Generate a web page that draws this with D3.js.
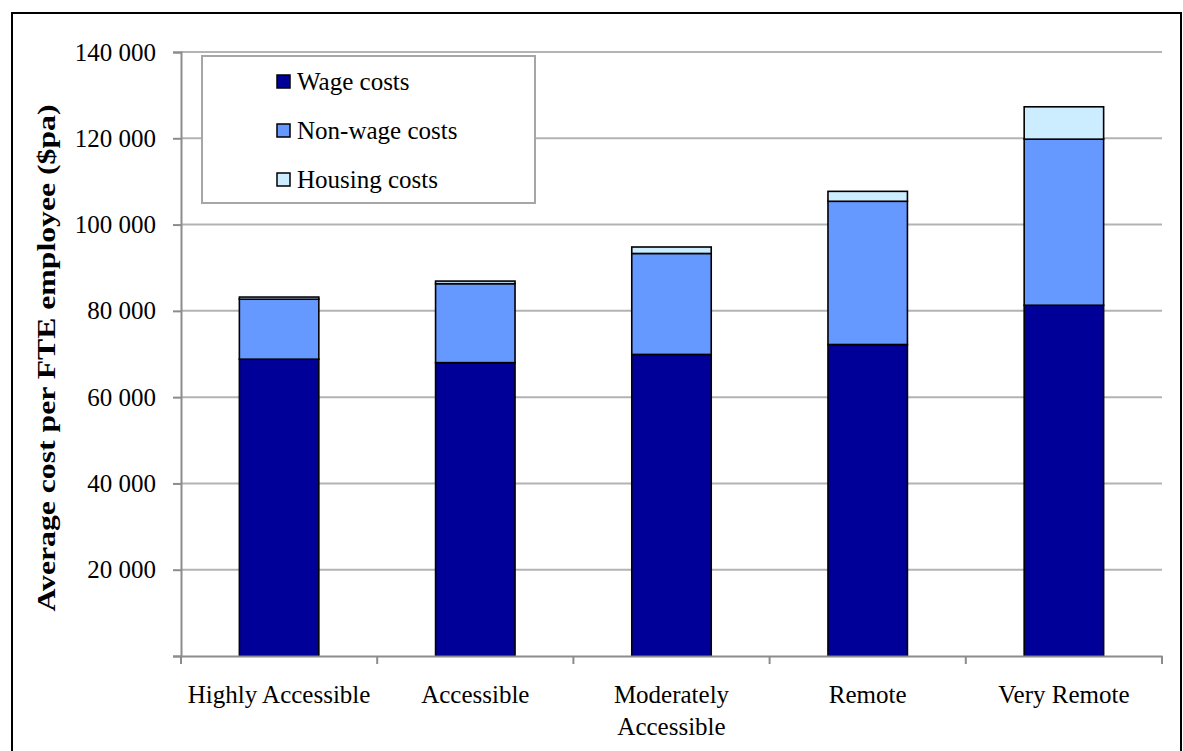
<!DOCTYPE html>
<html>
<head>
<meta charset="utf-8">
<script src="https://cdn.jsdelivr.net/npm/d3@7"></script>
<style>
  html, body { margin: 0; padding: 0; background: #fff; }
  svg text { font-family: "Liberation Serif", "Times New Roman", serif; fill: #000; }
</style>
</head>
<body>
<svg id="chart" width="1183" height="751"></svg>
<script>
const categories = ["Highly Accessible", "Accessible", "Moderately Accessible", "Remote", "Very Remote"];
const wageCosts = [68800, 68000, 69900, 72200, 81300];
const nonWageCosts = [13900, 18300, 23400, 33200, 38500];
const housingCosts = [500, 600, 1500, 2300, 7500];
const seriesNames = ["Wage costs", "Non-wage costs", "Housing costs"];
const yTickValues = [0, 20000, 40000, 60000, 80000, 100000, 120000, 140000];
const yTitle = "Average cost per FTE employee ($pa)";

const colors = ["#000099", "#6699FF", "#CCECFF"];

const svg = d3.select("#chart");
const m = { left: 181, right: 1162, top: 52, bottom: 656 };

// outer border
svg.append("rect").attr("x", 12).attr("y", 13).attr("width", 1169).attr("height", 760)
  .attr("fill", "none").attr("stroke", "#000").attr("stroke-width", 2);

const x = d3.scaleBand().domain(categories).range([m.left, m.right]).paddingInner(0.595).paddingOuter(0.2975);
const y = d3.scaleLinear().domain([0, 140000]).range([m.bottom, m.top]);

// gridlines
svg.append("g").selectAll("line").data(yTickValues.filter(d => d > 0)).join("line")
  .attr("x1", m.left).attr("x2", m.right)
  .attr("y1", d => y(d)).attr("y2", d => y(d))
  .attr("stroke", "#b3b3b3").attr("stroke-width", 2);

// stacked data
const rows = categories.map((c, i) => ({ cat: c, w: wageCosts[i], n: nonWageCosts[i], h: housingCosts[i] }));
const stack = d3.stack().keys(["w", "n", "h"]);
const layers = stack(rows);

svg.append("g").selectAll("g").data(layers).join("g")
  .attr("fill", (d, i) => colors[i])
  .selectAll("rect").data(d => d).join("rect")
  .attr("x", d => x(d.data.cat))
  .attr("width", x.bandwidth())
  .attr("y", d => y(d[1]))
  .attr("height", d => y(d[0]) - y(d[1]))
  .attr("stroke", "#000").attr("stroke-width", 1.6);

// y axis
const locale = d3.formatLocale({ decimal: ".", thousands: " ", grouping: [3], currency: ["$", ""] });
const fmt = locale.format(",");
const yAxis = d3.axisLeft(y).tickValues(yTickValues).tickSize(8).tickPadding(17)
  .tickFormat(d => d === 0 ? "" : fmt(d));
const gy = svg.append("g").attr("transform", `translate(${m.left},0)`).call(yAxis);
gy.select(".domain").attr("stroke", "#8c8c8c").attr("stroke-width", 2);
gy.selectAll(".tick line").attr("stroke", "#8c8c8c").attr("stroke-width", 2);
gy.selectAll(".tick text").attr("font-size", 25).attr("font-family", "Liberation Serif, serif").attr("fill", "#000");

// x axis
const xAxis = d3.axisBottom(x).tickSize(0).tickFormat("");
const gx = svg.append("g").attr("transform", `translate(0,${m.bottom})`).call(xAxis);
gx.select(".domain").attr("stroke", "#8c8c8c").attr("stroke-width", 2);
const bounds = [m.left].concat(categories.map(c => x(c) - x.step() * x.paddingInner() / 2 + x.step()));
gx.selectAll(".bnd").data(bounds).join("line").attr("class", "bnd")
  .attr("x1", d => d).attr("x2", d => d).attr("y1", 0).attr("y2", 8)
  .attr("stroke", "#8c8c8c").attr("stroke-width", 2);

// x labels with wrapping
const xl = svg.append("g");
categories.forEach(c => {
  const cx = x(c) + x.bandwidth() / 2;
  const t = xl.append("text").attr("x", cx).attr("y", 703).attr("text-anchor", "middle").attr("font-size", 25);
  t.text(c);
  if (t.node().getComputedTextLength() > x.step()) {
    t.text(null);
    const words = c.split(" ");
    words.forEach((wd, k) => {
      t.append("tspan").attr("x", cx).attr("dy", k === 0 ? 0 : 32).text(wd);
    });
  }
});

// y title
svg.append("text")
  .attr("transform", `translate(55,358) rotate(-90)`)
  .attr("text-anchor", "middle")
  .attr("font-size", 26).attr("font-weight", "bold")
  .attr("textLength", 507).attr("lengthAdjust", "spacingAndGlyphs")
  .text(yTitle);

// legend
const lg = svg.append("g");
lg.append("rect").attr("x", 202).attr("y", 56).attr("width", 333).attr("height", 147)
  .attr("fill", "#fff").attr("stroke", "#a6a6a6").attr("stroke-width", 2);
const rowsY = [82, 131, 180];
seriesNames.forEach((s, i) => {
  lg.append("rect").attr("x", 277).attr("y", rowsY[i] - 7).attr("width", 13).attr("height", 13)
    .attr("fill", colors[i]).attr("stroke", "#000").attr("stroke-width", 1.5);
  lg.append("text").attr("x", 297).attr("y", rowsY[i] + 8).attr("font-size", 25).text(s);
});
</script>
</body>
</html>
